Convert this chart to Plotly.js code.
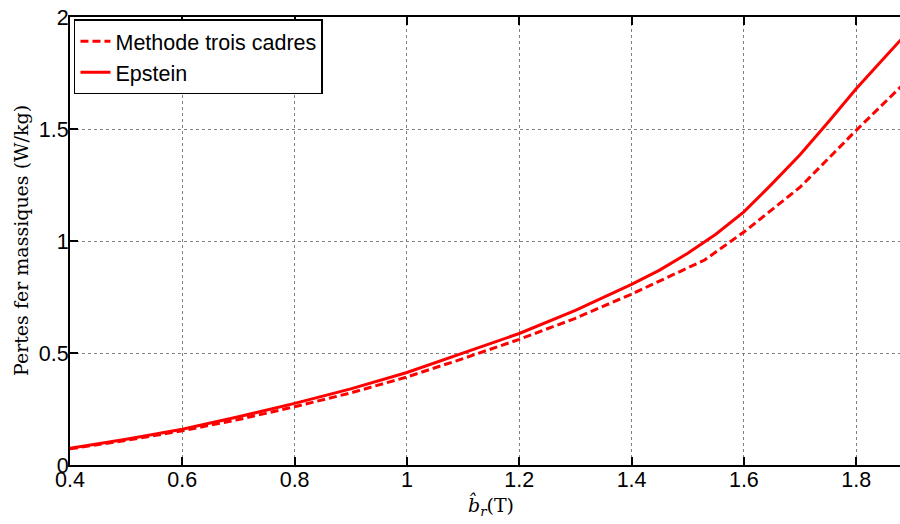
<!DOCTYPE html>
<html>
<head>
<meta charset="utf-8">
<script src="https://cdn.plot.ly/plotly-3.0.1.min.js"></script>
<style>
  html, body { margin: 0; padding: 0; background: #ffffff; }
  #chart { width: 900px; height: 524px; }
</style>
</head>
<body>
<div id="chart"></div>
<script>
// Iron loss vs peak flux density: three-frame method against Epstein frame
const bTroisCadres = [0.4, 0.5, 0.6, 0.7, 0.8, 0.9, 1.0, 1.1, 1.2, 1.3, 1.4, 1.53, 1.6, 1.7, 1.8, 1.88];
const pTroisCadres = [0.072, 0.110, 0.153, 0.203, 0.260, 0.322, 0.393, 0.475, 0.561, 0.655, 0.763, 0.915, 1.040, 1.240, 1.494, 1.690];

const bEpstein = [0.4, 0.5, 0.6, 0.7, 0.8, 0.9, 1.0, 1.1, 1.2, 1.3, 1.4, 1.45, 1.5, 1.55, 1.6, 1.65, 1.7, 1.75, 1.8, 1.84, 1.88];
const pEpstein = [0.075, 0.115, 0.160, 0.215, 0.275, 0.340, 0.413, 0.500, 0.587, 0.690, 0.806, 0.870, 0.945, 1.030, 1.130, 1.255, 1.385, 1.530, 1.680, 1.790, 1.900];

const xTicks = [0.4, 0.6, 0.8, 1.0, 1.2, 1.4, 1.6, 1.8];
const xTickText = ['0.4', '0.6', '0.8', '1', '1.2', '1.4', '1.6', '1.8'];
const yTicks = [0, 0.5, 1, 1.5, 2];
const yTickText = ['0', '0.5', '1', '1.5', '2'];

const sans = 'Liberation Sans, Arial, sans-serif';
const serif = 'DejaVu Serif, serif';

const traces = [
  {
    x: bTroisCadres, y: pTroisCadres,
    type: 'scatter', mode: 'lines',
    name: 'Methode trois cadres',
    line: { color: '#ff0000', width: 3, dash: '8px,4px' }
  },
  {
    x: bEpstein, y: pEpstein,
    type: 'scatter', mode: 'lines',
    name: 'Epstein',
    line: { color: '#ff0000', width: 3 }
  }
];

const layout = {
  width: 900, height: 524,
  margin: { l: 70, r: 0, t: 17, b: 59 },
  paper_bgcolor: '#ffffff',
  plot_bgcolor: '#ffffff',
  showlegend: true,
  font: { family: sans, size: 21.5, color: '#000000' },
  xaxis: {
    range: [0.4, 1.878],
    tickvals: xTicks, ticktext: xTickText,
    ticks: 'inside', ticklen: 8, tickwidth: 2, tickcolor: '#000000',
    ticklabelstandoff: -6,
    showline: true, linecolor: '#000000', linewidth: 2, mirror: 'ticks',
    showgrid: true, gridcolor: '#808080', gridwidth: 1, griddash: 'dot',
    zeroline: false,
    tickfont: { family: sans, size: 21.5, color: '#000000' }
  },
  yaxis: {
    range: [0, 2],
    tickvals: yTicks, ticktext: yTickText,
    ticks: 'inside', ticklen: 8, tickwidth: 2, tickcolor: '#000000',
    ticklabelstandoff: -5,
    showline: true, linecolor: '#000000', linewidth: 2,
    showgrid: true, gridcolor: '#808080', gridwidth: 1, griddash: 'dot',
    zeroline: false,
    tickfont: { family: sans, size: 21.5, color: '#000000' }
  },
  legend: {
    x: 0.0048, y: 0.995, xanchor: 'left', yanchor: 'top',
    bgcolor: '#ffffff', bordercolor: '#000000', borderwidth: 1.5,
    font: { family: sans, size: 21.5, color: '#000000' },
    tracegroupgap: 0
  },
  annotations: [
    {
      text: 'Pertes fer massiques (W/kg)',
      xref: 'paper', yref: 'paper',
      x: -0.059, y: 0.5, xanchor: 'center', yanchor: 'middle',
      textangle: -90, showarrow: false,
      font: { family: serif, size: 19, color: '#000000' }
    },
    {
      text: '<i>b̂</i><sub><i>r</i></sub>(T)',
      xref: 'paper', yref: 'paper',
      x: 0.507, y: -0.0915, xanchor: 'center', yanchor: 'middle',
      showarrow: false,
      font: { family: serif, size: 19, color: '#000000' }
    }
  ]
};

Plotly.newPlot('chart', traces, layout, { displayModeBar: false, staticPlot: true });
</script>
</body>
</html>
